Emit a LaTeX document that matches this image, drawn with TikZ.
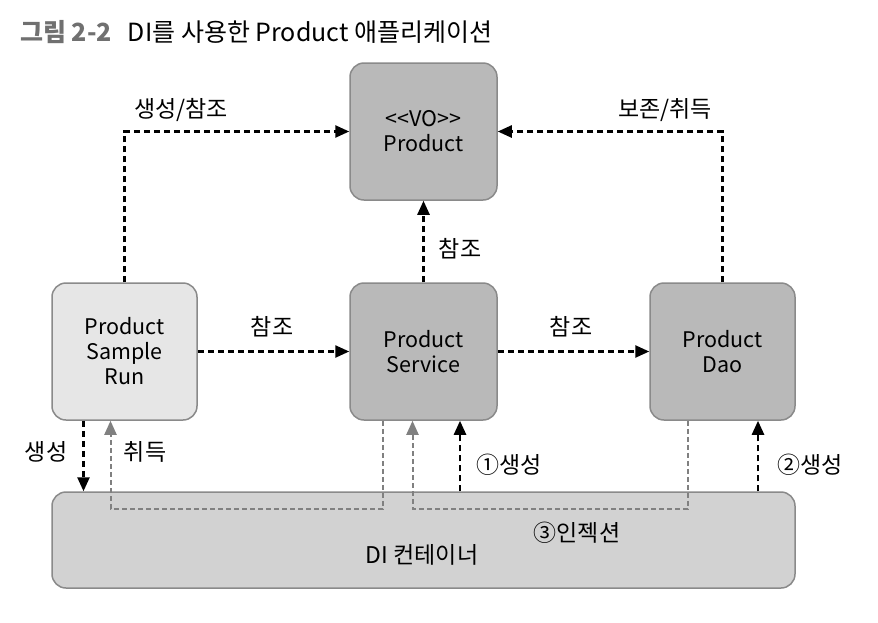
\documentclass[tikz,border=0pt]{standalone}
\usepackage{fontspec}
\setmainfont{Noto Sans CJK KR}
\usetikzlibrary{arrows.meta}
\definecolor{boxdark}{HTML}{B9B9B9}
\definecolor{boxlight}{HTML}{E6E6E6}
\definecolor{boxdi}{HTML}{D2D2D2}
\definecolor{edgegray}{HTML}{8A8A8A}
\definecolor{grayarrow}{HTML}{808080}
\definecolor{titlegray}{HTML}{707070}
\begin{document}
\begin{tikzpicture}[x=1pt,y=-1pt,
  box/.style={draw=edgegray, line width=1.5pt, rounded corners=14pt, align=center,
    font=\fontsize{21.5}{25}\selectfont, inner sep=0pt},
  blk/.style={line width=2.5pt, dash pattern=on 6pt off 4pt, -{Triangle[length=14pt,width=12pt]}},
  gry/.style={draw=grayarrow, line width=2pt, dash pattern=on 5pt off 3pt, -{Triangle[length=14pt,width=12pt,fill=grayarrow]}},
  lbl/.style={font=\fontsize{23}{26}\selectfont, inner sep=0pt}]
\useasboundingbox (0,0) rectangle (878,622);
\fill[white] (0,0) rectangle (878,622);

\node[anchor=base west, inner sep=0pt, font=\fontsize{25}{28}\selectfont] (title) at (20,41)
  {\textcolor{titlegray}{\bfseries 그림 2-2}\hspace{16pt}DI를 사용한 Product 애플리케이션};

\node[box, fill=boxdark, minimum width=147pt, minimum height=137pt] (vo) at (423.5,131.5) {{<}{<}VO{>}{>}\\Product};
\node[box, fill=boxlight, minimum width=145pt, minimum height=137pt] (run) at (124.5,351.5) {Product\\Sample\\Run};
\node[box, fill=boxdark, minimum width=147pt, minimum height=137pt] (svc) at (423.5,351.5) {Product\\Service};
\node[box, fill=boxdark, minimum width=145pt, minimum height=137pt] (dao) at (722.5,351.5) {Product\\Dao};
\node[box, fill=boxdi, minimum width=743pt, minimum height=96pt] (di) at (423.5,540) {};
\node[lbl] (dilbl) at (422,555) {DI 컨테이너};

% top connectors
\draw[blk] (run.north) |- (vo.west);
\draw[blk] (dao.north) |- (vo.east);
\draw[blk] (svc.north) -- (vo.south);
\draw[blk] (run.east) -- (svc.west);
\draw[blk] (svc.east) -- (dao.west);

\node[lbl] (l1) at (181,110) {생성/참조};
\node[lbl] (l2) at (665,110) {보존/취득};
\node[lbl] (l3) at (460,249) {참조};
\node[lbl] (l4) at (272,327) {참조};
\node[lbl] (l5) at (571,327) {참조};

% bottom connectors
\draw[blk] ([xshift=-41pt]run.south) -- ([xshift=-41pt]run.south |- di.north);
\draw[gry] ([xshift=-41pt]svc.south) -- ++(0,88) -| ([xshift=-14pt]run.south);
\draw[gry] ([xshift=-35pt]dao.south) -- ++(0,88) -| ([xshift=-11pt]svc.south);
\draw[blk] ([xshift=36.5pt]svc.south |- di.north) -- ([xshift=36.5pt]svc.south);
\draw[blk] ([xshift=35.5pt]dao.south |- di.north) -- ([xshift=35.5pt]dao.south);

\node[lbl] (l6) at (46,452) {생성};
\node[lbl] (l7) at (145,452) {취득};
\node[lbl] (l8) at (509,465) {①생성};
\node[lbl] (l9) at (810,465) {②생성};
\node[lbl] (l10) at (577,533) {③인젝션};
\end{tikzpicture}
\end{document}
